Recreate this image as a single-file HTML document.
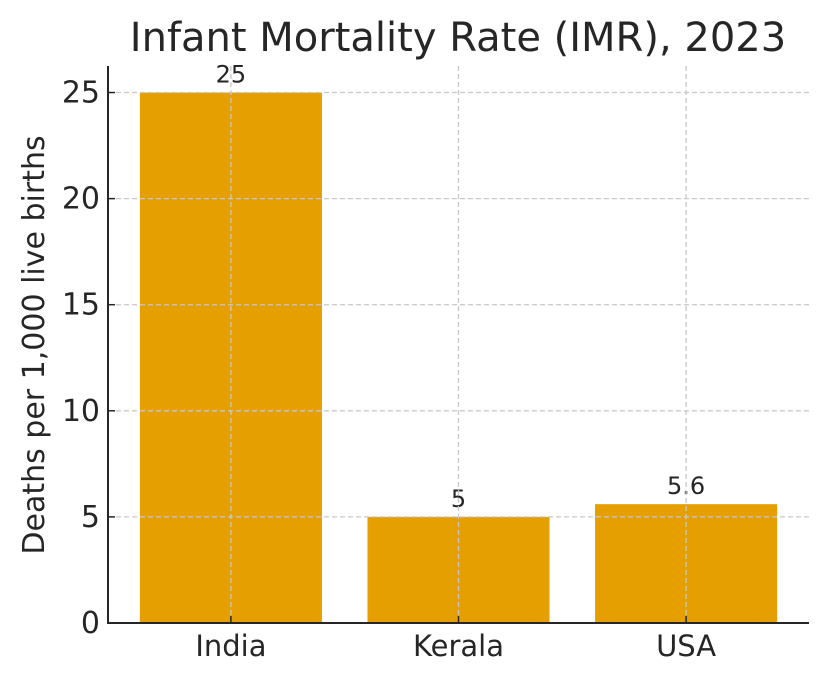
<!DOCTYPE html>
<html><head><meta charset="utf-8"><style>
body{margin:0;background:#fff;}
svg text{font-family:"DejaVu Sans","Liberation Sans",sans-serif;fill:#262626;}
</style></head><body>
<svg id="chart" width="829" height="682" xmlns="http://www.w3.org/2000/svg">
<text x="458" y="51" font-size="40" text-anchor="middle">Infant Mortality Rate (IMR), 2023</text>
<text transform="translate(44,345) rotate(-90)" font-size="30" text-anchor="middle">Deaths per 1,000 live births</text>
<g id="bars"></g><g id="grid"></g><g id="axes"></g>
</svg>
<script>
const categories=["India","Kerala","USA"];
const values=[25,5,5.6];
const valueLabels=["25","5","5.6"];
const yTicks=[0,5,10,15,20,25];
const L=108,R=809,T=66,B=623,yMax=26.25,x0=-0.54,x1=2.54;
const sx=v=>L+(v-x0)/(x1-x0)*(R-L);
const sy=v=>B-v/yMax*(B-T);
const NS="http://www.w3.org/2000/svg";
function mk(p,t,a){const e=document.createElementNS(NS,t);for(const k in a)e.setAttribute(k,a[k]);p.appendChild(e);return e;}
const bars=document.getElementById('bars'),grid=document.getElementById('grid'),axes=document.getElementById('axes');
categories.forEach((c,i)=>{
 const xl=sx(i-0.4),xr=sx(i+0.4);
 const r=mk(bars,'rect',{x:xl,y:sy(values[i]),width:xr-xl,height:B-sy(values[i]),fill:'#E69F00'});
 
 
 const t=mk(bars,'text',{x:sx(i),y:sy(values[i])-10,'font-size':24,'text-anchor':'middle'});
 t.textContent=valueLabels[i];
 
 
 const g=mk(grid,'line',{x1:sx(i),x2:sx(i),y1:T,y2:B,stroke:'#c8c8c8','stroke-width':1.3,'stroke-dasharray':'5,3'});
 
 
 mk(axes,'line',{x1:sx(i),x2:sx(i),y1:B,y2:B-7,stroke:'#262626','stroke-width':1.5});
 const tl=mk(axes,'text',{x:sx(i),y:B+33,'font-size':29,'text-anchor':'middle'});
 tl.textContent=c;
 
 
});
yTicks.forEach(v=>{
 if(v>0){const g=mk(grid,'line',{x1:L,x2:R,y1:sy(v),y2:sy(v),stroke:'#c8c8c8','stroke-width':1.3,'stroke-dasharray':'5,3'});
 
 }
 mk(axes,'line',{x1:L,x2:L+7,y1:sy(v),y2:sy(v),stroke:'#262626','stroke-width':1.5});
 const t=mk(axes,'text',{x:L-8,y:sy(v)+10,'font-size':30,'text-anchor':'end'});
 t.textContent=v;
 
 
});
const ya=mk(axes,'line',{x1:L,x2:L,y1:T,y2:B+1,stroke:'#262626','stroke-width':2});


const xa=mk(axes,'line',{x1:L-1,x2:R,y1:B,y2:B,stroke:'#262626','stroke-width':2});


</script>
</body></html>
